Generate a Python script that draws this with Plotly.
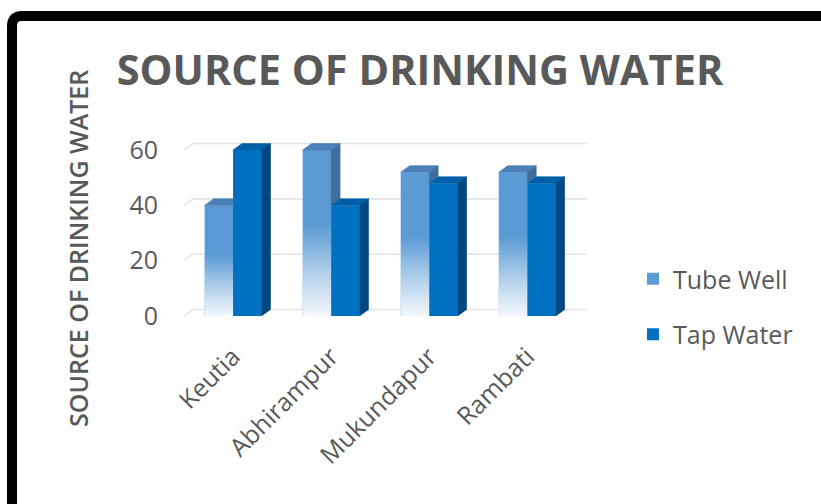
import plotly.graph_objects as go

# ---- data ----
villages = ["Keutia", "Abhirampur", "Mukundapur", "Rambati"]
tube_well = [40, 60, 52, 52]
tap_water = [60, 40, 48, 48]
y_ticks = [0, 20, 40, 60]

# ---- styling ----
TEXT = "#595959"
FONT = "Open Sans"
TUBE_FRONT, TUBE_TOP, TUBE_SIDE = "#5B9BD5", "#4C7FB7", "#3F6E9C"
TAP_FRONT, TAP_TOP, TAP_SIDE = "#0070C0", "#005FA8", "#004782"
GRID = "#E4E4E4"

W, H = 821, 504
ML, MR, MT, MB = 184, 233, 139, 188
PW, PH = W - ML - MR, H - MT - MB
X_RANGE = [-0.5, 3.62]
Y_RANGE = [0, 64]

BAR_W = 0.29          # width of one bar (x units)
DX = 9 / (PW / (X_RANGE[1] - X_RANGE[0]))      # depth shift to the right
DY = 6.5 / (PH / (Y_RANGE[1] - Y_RANGE[0]))    # depth shift upwards


def px_to_paper(px, py):
    return (px - ML) / PW, (MT + PH - py) / PH


fig = go.Figure()

# front faces
fig.add_trace(go.Bar(
    x=list(range(len(villages))), y=tube_well, name="Tube Well",
    width=BAR_W, offset=-BAR_W, marker=dict(color=TUBE_FRONT, line=dict(width=0)),
    legendgroup="tube", hoverinfo="skip",
))
fig.add_trace(go.Bar(
    x=list(range(len(villages))), y=tap_water, name="Tap Water",
    width=BAR_W, offset=0, marker=dict(color=TAP_FRONT, line=dict(width=0)),
    legendgroup="tap", hoverinfo="skip",
))


def poly(xs, ys, color):
    fig.add_trace(go.Scatter(
        x=xs + [xs[0]], y=ys + [ys[0]], mode="lines", fill="toself",
        fillcolor=color, line=dict(color=color, width=0.6),
        showlegend=False, hoverinfo="skip",
    ))


for i, (tw, tp) in enumerate(zip(tube_well, tap_water)):
    # tube well bar: left of the category centre
    xl, xr = i - BAR_W, i
    # fading lower half of the tube-well front face
    fig.add_trace(go.Scatter(
        x=[xl, xr, xr, xl, xl], y=[0, 0, tw, tw, 0], mode="lines",
        fill="toself", line=dict(width=0),
        fillgradient=dict(
            type="vertical", start=0, stop=tw * 0.55,
            colorscale=[[0, "rgba(255,255,255,0.93)"],
                        [0.5, "rgba(255,255,255,0.5)"],
                        [1, "rgba(255,255,255,0)"]],
        ),
        showlegend=False, hoverinfo="skip",
    ))
    if tw >= tp:
        poly([xl, xr, xr + DX, xl + DX], [tw, tw, tw + DY, tw + DY], TUBE_TOP)
        if tw > tp:
            poly([xr, xr + DX, xr + DX, xr], [tp, tp + DY, tw + DY, tw], TUBE_SIDE)
    else:
        poly([xl, xr, xr, xl + DX], [tw, tw, tw + DY, tw + DY], TUBE_TOP)

    # tap water bar: right of the category centre
    xl2, xr2 = i, i + BAR_W
    poly([xl2, xr2, xr2 + DX, xl2 + DX], [tp, tp, tp + DY, tp + DY], TAP_TOP)
    poly([xr2, xr2 + DX, xr2 + DX, xr2], [0, DY, tp + DY, tp], TAP_SIDE)

# back-wall gridlines with the slanted floor edge
shapes = []
for v in y_ticks:
    shapes.append(dict(
        type="path", xref="x", yref="y", layer="below",
        path=f"M {X_RANGE[0]},{v} L {X_RANGE[0] + DX},{v + DY} L 3.61,{v + DY}",
        line=dict(color=GRID, width=1.6),
    ))

# outer black frame with a rounded corner
x0, y0 = px_to_paper(12, 530)
x1, y1 = px_to_paper(12, 26)
xc, yc = px_to_paper(12, 16)
x2, y2 = px_to_paper(22, 16)
x3, y3 = px_to_paper(840, 16)
shapes.append(dict(
    type="path", xref="paper", yref="paper", layer="above",
    path=f"M {x0},{y0} L {x1},{y1} Q {xc},{yc} {x2},{y2} L {x3},{y3}",
    line=dict(color="black", width=10),
))

ytx, yty = px_to_paper(78, 249)
annotations = [dict(
    text="SOURCE OF DRINKING WATER", textangle=-90,
    xref="paper", yref="paper", x=ytx, y=yty, xanchor="center", yanchor="middle",
    showarrow=False, font=dict(family=FONT, size=25, color=TEXT, weight=600),
)]

lx, ly = px_to_paper(633, 256)

fig.update_layout(
    width=W, height=H,
    margin=dict(l=ML, r=MR, t=MT, b=MB, pad=0),
    paper_bgcolor="white", plot_bgcolor="white",
    barmode="overlay",
    showlegend=True,
    title=dict(
        text="SOURCE OF DRINKING WATER",
        x=420 / W, xanchor="center", xref="container",
        y=1 - 70 / H, yanchor="middle", yref="container",
        font=dict(family=FONT, size=41.5, color=TEXT, weight=700),
    ),
    xaxis=dict(
        range=X_RANGE, tickmode="array", tickvals=list(range(len(villages))),
        ticktext=villages, tickangle=-45, showgrid=False, zeroline=False,
        showline=False, ticks="", ticklabelstandoff=20,
        tickfont=dict(family=FONT, size=25, color=TEXT), fixedrange=True,
    ),
    yaxis=dict(
        range=Y_RANGE, tickmode="array", tickvals=y_ticks,
        showgrid=False, zeroline=False, showline=False, ticks="",
        ticklabelstandoff=25,
        tickfont=dict(family=FONT, size=25, color=TEXT), fixedrange=True,
    ),
    legend=dict(
        x=lx, y=ly, xanchor="left", yanchor="top",
        font=dict(family=FONT, size=25, color=TEXT),
        traceorder="grouped", tracegroupgap=20, bgcolor="rgba(0,0,0,0)",
    ),
    shapes=shapes,
    annotations=annotations,
)

fig.write_html("out.html")
